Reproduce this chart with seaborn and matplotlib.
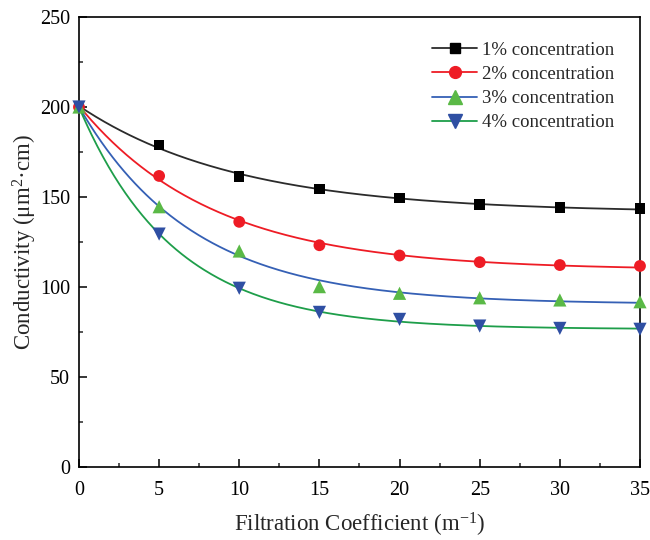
import numpy as np
import pandas as pd
import matplotlib
matplotlib.use("Agg")
import matplotlib.pyplot as plt
from matplotlib.lines import Line2D
import seaborn as sns

# Measured conductivity versus filtration coefficient
filtration = [0, 5, 10, 15, 20, 25, 30, 35]
conc_1 = [200, 179.0, 161.3, 154.3, 149.3, 145.9, 144.2, 143.5]
conc_2 = [200, 161.7, 136.2, 123.2, 117.5, 113.8, 112.2, 111.7]
conc_3 = [200, 144.6, 120.0, 100.2, 96.5, 94.0, 92.8, 91.8]
conc_4 = [200, 129.4, 99.3, 85.9, 82.0, 78.3, 77.0, 76.5]
series_labels = ["1% concentration", "2% concentration",
                 "3% concentration", "4% concentration"]

line_colors = ["#2b2b2b", "#ee1c25", "#3560b5", "#1e9e4a"]
marker_colors = ["#000000", "#ee1c25", "#5ab946", "#2f4fa3"]
markers = ["s", "o", "^", "v"]
marker_sizes = [7.5, 8.5, 9.5, 9.5]

sns.set_theme(style="ticks")
plt.rcParams["font.family"] = ["Liberation Serif", "DejaVu Serif"]
plt.rcParams["mathtext.fontset"] = "custom"
plt.rcParams["mathtext.rm"] = "Liberation Serif"
plt.rcParams["mathtext.it"] = "Liberation Serif:italic"


def exp_decay_fit(x, y):
    """Least-squares fit of y = y0 + A*exp(-x/t) via a scan over t."""
    x = np.asarray(x, float)
    y = np.asarray(y, float)
    best = None
    for t in np.linspace(0.5, 40, 4000):
        basis = np.column_stack([np.ones_like(x), np.exp(-x / t)])
        coef, *_ = np.linalg.lstsq(basis, y, rcond=None)
        sse = np.sum((basis @ coef - y) ** 2)
        if best is None or sse < best[0]:
            best = (sse, coef[0], coef[1], t)
    _, y0, a, t = best
    return lambda xx: y0 + a * np.exp(-np.asarray(xx) / t)


rows = []
for lab, vals in zip(series_labels, [conc_1, conc_2, conc_3, conc_4]):
    for xv, yv in zip(filtration, vals):
        rows.append({"x": xv, "y": yv, "series": lab})
df = pd.DataFrame(rows)

fig = plt.figure(figsize=(6.5, 5.4), dpi=100)
ax = fig.add_axes([0.1215, 0.1352, 0.8631, 0.8333])

xs = np.linspace(0, 35, 400)
fit_rows = []
for lab, vals in zip(series_labels, [conc_1, conc_2, conc_3, conc_4]):
    f = exp_decay_fit(filtration, vals)
    for xv, yv in zip(xs, f(xs)):
        fit_rows.append({"x": xv, "y": yv, "series": lab})
fit_df = pd.DataFrame(fit_rows)

sns.lineplot(data=fit_df, x="x", y="y", hue="series", palette=line_colors,
             hue_order=series_labels, linewidth=1.3, legend=False, ax=ax,
             zorder=2)

for i, lab in enumerate(series_labels):
    sub = df[df["series"] == lab]
    sns.scatterplot(data=sub, x="x", y="y", marker=markers[i],
                    color=marker_colors[i], s=marker_sizes[i] ** 2,
                    edgecolor="none", linewidth=0, legend=False, ax=ax,
                    zorder=3 + i, clip_on=False)

ax.set_xlim(0, 35)
ax.set_ylim(0, 250)
ax.set_xticks(np.arange(0, 36, 5))
ax.set_yticks(np.arange(0, 251, 50))
ax.set_xticks(np.arange(2.5, 35, 5), minor=True)
ax.set_yticks(np.arange(25, 250, 50), minor=True)
ax.tick_params(which="major", direction="in", length=5.5, width=1.1,
               labelsize=14.5, colors="black", top=False, right=False)
ax.tick_params(which="minor", direction="in", length=3, width=1.1,
               top=False, right=False)
ax.tick_params(axis="x", which="major", pad=10)
ax.tick_params(axis="y", which="major", pad=6.5)
for sp in ax.spines.values():
    sp.set_visible(True)
    sp.set_linewidth(1.2)
    sp.set_color("black")

ax.set_xlabel(r"Filtration Coefficient (m$^{-1}$)", fontsize=16.5, labelpad=8)
ax.set_ylabel(r"Conductivity (μm$^{2}$·cm)", fontsize=16.5, labelpad=0.5)

handles = [Line2D([0], [0], color=line_colors[i], lw=1.3, marker=markers[i],
                  markerfacecolor=marker_colors[i],
                  markeredgecolor=marker_colors[i],
                  markersize=marker_sizes[i])
           for i in range(4)]
ax.legend(handles, series_labels, loc="upper right", frameon=False,
          fontsize=13.5, handlelength=2.4, handletextpad=0.25,
          labelspacing=0.38, borderaxespad=0.0,
          bbox_to_anchor=(0.9675, 0.962))

fig.savefig("out.png", dpi=100)
